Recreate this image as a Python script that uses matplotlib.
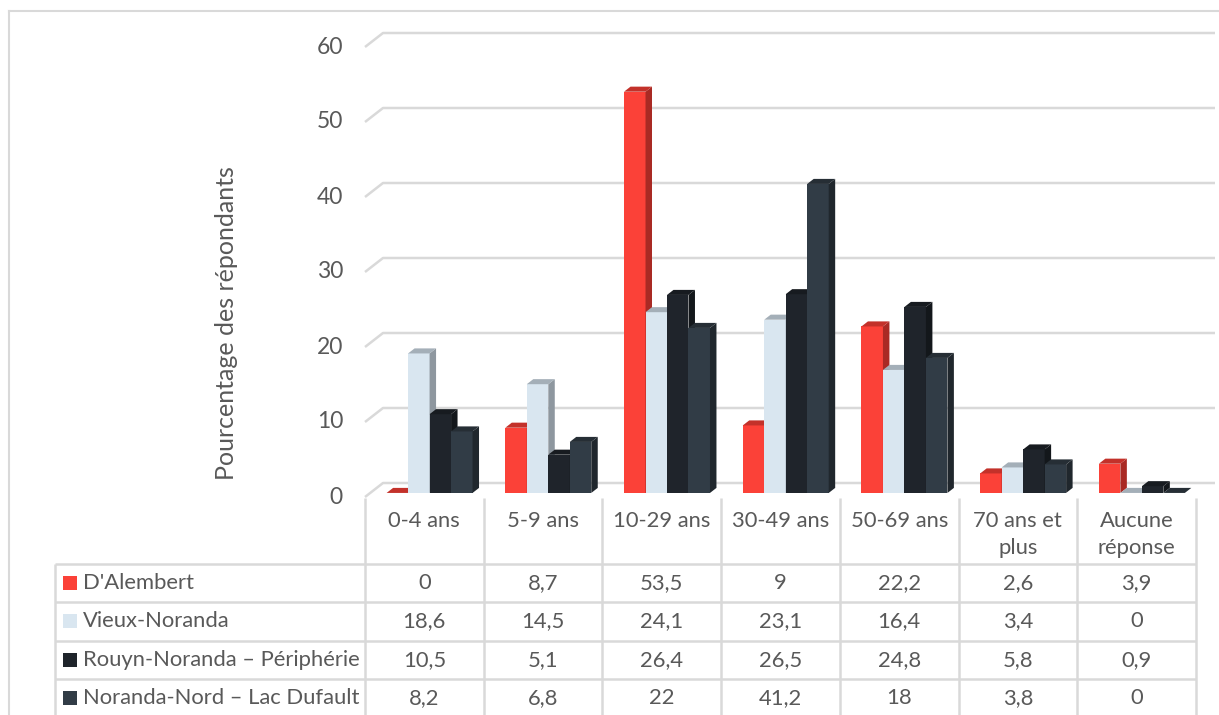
import numpy as np
import matplotlib.pyplot as plt
from matplotlib.patches import Polygon, Rectangle
from matplotlib.lines import Line2D

plt.rcParams['font.family'] = ['Lato', 'DejaVu Sans']

categories = ['0-4 ans', '5-9 ans', '10-29 ans', '30-49 ans', '50-69 ans',
              '70 ans et\nplus', 'Aucune\nréponse']
series = ['D\'Alembert', 'Vieux-Noranda', 'Rouyn-Noranda \u2013 Périphérie',
          'Noranda-Nord \u2013 Lac Dufault']
dalembert = [0, 8.7, 53.5, 9, 22.2, 2.6, 3.9]
vieux = [18.6, 14.5, 24.1, 23.1, 16.4, 3.4, 0]
peripherie = [10.5, 5.1, 26.4, 26.5, 24.8, 5.8, 0.9]
dufault = [8.2, 6.8, 22, 41.2, 18, 3.8, 0]
values = [dalembert, vieux, peripherie, dufault]
value_labels = [['0', '8,7', '53,5', '9', '22,2', '2,6', '3,9'],
                ['18,6', '14,5', '24,1', '23,1', '16,4', '3,4', '0'],
                ['10,5', '5,1', '26,4', '26,5', '24,8', '5,8', '0,9'],
                ['8,2', '6,8', '22', '41,2', '18', '3,8', '0']]
yticks = [0, 10, 20, 30, 40, 50, 60]

# front / side / top colours per series
front = ['#fb4138', '#d9e6f0', '#1f242b', '#313c46']
side = ['#a92a24', '#8e979f', '#13171b', '#20272d']
top = ['#c3312a', '#a4afb8', '#171b20', '#262e35']

TXT = '#595959'
LINE = '#d9d9d9'
FS = 15.8
W, H = 1219, 715
fig = plt.figure(figsize=(W / 100, H / 100), dpi=100)

col_w = (1196 - 365) / 7      # px per category
px_y = 7.5                    # px per value unit


def fx(px):
    return px / W


def fy(py):
    return 1 - py / H


# chart border
fig.add_artist(Line2D([fx(9), fx(9)], [fy(11), 0], color=LINE, lw=1.5))
fig.add_artist(Line2D([fx(9), 1], [fy(11), fy(11)], color=LINE, lw=1.5))

# ---- 3D-looking column chart
ax = fig.add_axes([fx(365), fy(497), fx(1215 - 365), (497 - 33) / H])
xmax = -0.5 + (1215 - 365) / col_w
ax.set_xlim(-0.5, xmax)
ax.set_ylim(0, (497 - 33) / px_y)
ax.axis('off')

# depth vector of the back wall, in data units
wdx, wdy = 18 / col_w, 14 / px_y
for v in yticks:
    ax.plot([-0.5, -0.5 + wdx, xmax], [v, v + wdy, v + wdy], color=LINE,
            lw=1.8, solid_capstyle='butt', clip_on=False, zorder=1)
    ax.text(-0.5 - 22 / col_w, v, str(v), ha='right', va='center',
            fontsize=16.5, color=TXT)

ax.text(-0.5 - (365 - 227) / col_w, (497 - 323) / px_y,
        'Pourcentage des répondants', rotation=90, ha='center',
        va='center', fontsize=18, color=TXT)

# bars sit from depth z0 to z1 (fraction of the wall depth)
z0, z1 = 0.29, 0.65
bw = 0.181
bdx, bdy = (z1 - z0) * wdx, (z1 - z0) * wdy
zo = 2
for i in range(len(categories)):
    for k in range(len(series)):
        v = values[k][i]
        x0 = i + z0 * wdx + (k - 2) * bw
        x1 = x0 + bw
        b = z0 * wdy
        t = b + v
        ax.add_patch(Rectangle((x0, b), bw, v, facecolor=front[k],
                               edgecolor='none', zorder=zo))
        ax.add_patch(Polygon([(x1, b), (x1, t), (x1 + bdx, t + bdy),
                              (x1 + bdx, b + bdy)], closed=True,
                             facecolor=side[k], edgecolor='none', zorder=zo))
        ax.add_patch(Polygon([(x0, t), (x1, t), (x1 + bdx, t + bdy),
                              (x0 + bdx, t + bdy)], closed=True,
                             facecolor=top[k], edgecolor='none', zorder=zo))
        zo += 1

# ---- data table
tab = fig.add_axes([fx(55), 0, fx(1196 - 55), (H - 497) / H])
left = -0.5 - (365 - 55) / col_w
tab.set_xlim(left, 6.5)
tab.set_ylim(H - 497, 0)
tab.axis('off')

head_h = 67
row_h = 38.3
bottom = H - 497
for j in range(len(categories) + 1):
    tab.plot([j - 0.5, j - 0.5], [1, bottom], color=LINE, lw=1.8,
             solid_capstyle='butt', clip_on=False)
tab.plot([left, left], [head_h, bottom], color=LINE, lw=1.8,
         solid_capstyle='butt', clip_on=False)
for r in range(len(series)):
    y = head_h + r * row_h
    tab.plot([left, 6.5], [y, y], color=LINE, lw=1.8,
             solid_capstyle='butt', clip_on=False)

for i, c in enumerate(categories):
    tab.text(i, 14, c, ha='center', va='top', fontsize=FS, color=TXT,
             linespacing=1.45)

for k, name in enumerate(series):
    yc = head_h + (k + 0.5) * row_h
    tab.add_patch(Rectangle((left + 8 / col_w, yc - 7), 14 / col_w, 14,
                            facecolor=front[k], edgecolor='none'))
    tab.text(left + 28 / col_w, yc, name, ha='left', va='center',
             fontsize=FS, color=TXT)
    for i in range(len(categories)):
        tab.text(i, yc, value_labels[k][i], ha='center', va='center',
                 fontsize=FS, color=TXT)

fig.savefig('out.png', dpi=100)
